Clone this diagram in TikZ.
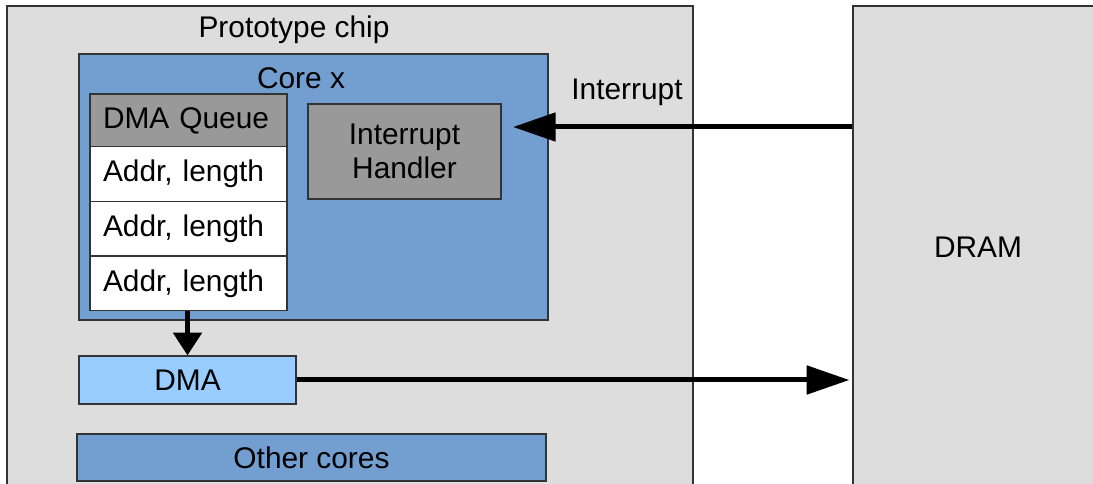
\documentclass[tikz,border=0pt]{standalone}
\usepackage{fontspec}
\setmainfont{Liberation Sans}
\usetikzlibrary{arrows.meta}
\definecolor{chipgray}{HTML}{DDDDDD}
\definecolor{coreblue}{HTML}{729FCF}
\definecolor{midgray}{HTML}{999999}
\definecolor{dmablue}{HTML}{99CCFF}
\definecolor{edge}{HTML}{333333}
\tikzset{
  every node/.style={font=\fontsize{22.4}{25}\selectfont, inner sep=0pt},
  box/.style={draw=edge, line width=0.9pt, rectangle, anchor=center},
  qrow/.style={box, fill=white, text width=128.25pt, inner xsep=9.75pt, align=left,
               minimum height=41pt},
  label/.style={anchor=center},
  arr/.style={line width=3.75pt, -{Triangle[length=32pt,width=21pt]}},
  shortarr/.style={line width=3.75pt, -{Triangle[length=17pt,width=21pt]}},
}
\begin{document}
\begin{tikzpicture}[x=0.75pt, y=-0.75pt]
\useasboundingbox (0,0) rectangle (1093,484);
\clip (0,0) rectangle (1093,484);
\fill[white] (0,0) rectangle (1093,484);

% outer blocks
\node[box, fill=chipgray, minimum width=514.5pt, minimum height=370.5pt] (chip) at (350,253) {};
\node[label] (chiplbl) at (294,30) {Prototype chip};
\node[box, fill=chipgray, minimum width=192.75pt, minimum height=370.5pt] (dram) at (981.5,253) {};
\node[label] (dramlbl) at (978,247) {DRAM};

% core with its queue and handler
\node[box, fill=coreblue, minimum width=351.75pt, minimum height=199.5pt] (core) at (313.5,187) {};
\node[label] (corelbl) at (301,78) {Core x};
\node[qrow, fill=midgray, minimum height=40.5pt] (dmaq) at (188.5,121) {DMA Queue};
\node[qrow] (row1) at (188.5,174) {Addr, length};
\node[qrow] (row2) at (188.5,228.5) {Addr, length};
\node[qrow] (row3) at (188.5,283.5) {Addr, length};
\node[box, fill=midgray, minimum width=144.75pt, minimum height=71.25pt, align=center] (ih) at (404.5,151.5) {Interrupt\\Handler};

% DMA engine and the remaining cores
\node[box, fill=dmablue, minimum width=162.75pt, minimum height=36pt] (dma) at (187.5,380) {DMA};
\node[box, fill=coreblue, minimum width=351.75pt, minimum height=35.25pt] (other) at (311.5,457.5) {\raisebox{-1.5pt}{Other cores}};

% connectors
\coordinate (irqtip) at (513,127);
\node[label] (irqlbl) at (627,92.5) {Interrupt};
\draw[arr] (dram.west |- irqtip) -- (irqtip);
\draw[shortarr] (row3.south -| dma.north) -- (dma.north);
\draw[arr] (dma.east) -- ([xshift=-2.25pt]dram.west |- dma.east);
\end{tikzpicture}
\end{document}
